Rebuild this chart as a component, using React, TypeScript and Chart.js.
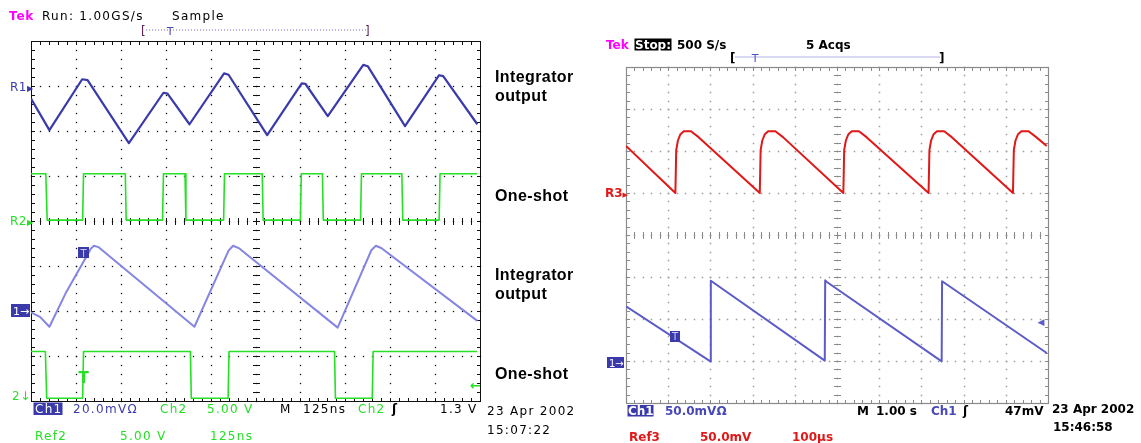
import React, { useEffect, useRef } from 'react';
import { Chart, registerables } from 'chart.js';

Chart.register(...registerables);

// ---------- Left scope (x: 0..10 div, y: -4..4 div) ----------
const R1_X = [0, 0.41, 1.14, 1.26, 2.18, 2.95, 3.04, 3.53, 4.30, 4.40, 5.26, 6.03, 6.11, 6.61, 7.40, 7.50, 8.33, 9.09, 9.18, 9.94];
const R1_Y = [2.72, 2.02, 3.15, 3.13, 1.73, 2.85, 2.83, 2.15, 3.28, 3.25, 1.91, 3.06, 3.05, 2.33, 3.47, 3.44, 2.11, 3.24, 3.22, 2.15];

const R2_X = [0, 0.33, 0.36, 1.15, 1.17, 2.10, 2.12, 2.93, 2.95, 3.43, 3.45, 4.29, 4.31, 5.15, 5.17, 6.00, 6.02, 6.49, 6.51, 7.34, 7.36, 8.26, 8.28, 9.09, 9.11, 9.94];
const R2_Y = [1.05, 1.05, 0.02, 0.02, 1.05, 1.05, 0.02, 0.02, 1.05, 1.05, 0.02, 0.02, 1.05, 1.05, 0.02, 0.02, 1.05, 1.05, 0.02, 0.02, 1.05, 1.05, 0.02, 0.02, 1.05, 1.05];

const CH1_X = [0, 0.20, 0.41, 0.79, 1.33, 1.40, 1.50, 3.64, 4.40, 4.50, 4.64, 6.83, 7.58, 7.68, 7.80, 9.94];
const CH1_Y = [-2.03, -2.13, -2.35, -1.57, -0.62, -0.55, -0.58, -2.35, -0.66, -0.55, -0.61, -2.37, -0.65, -0.55, -0.60, -2.22];

const CH2_X = [0, 0.32, 0.35, 1.15, 1.17, 3.55, 3.57, 4.39, 4.41, 6.76, 6.78, 7.60, 7.62, 9.94];
const CH2_Y = [-2.90, -2.90, -3.94, -3.94, -2.90, -2.90, -3.94, -3.94, -2.90, -2.90, -3.94, -3.94, -2.90, -2.90];

// ---------- Right scope (x: 0..10 div, y: -4..4 div) ----------
const R3_X = [0, 1.17, 1.19, 1.23, 1.29, 1.37, 1.54, 1.72, 3.17, 3.19, 3.23, 3.29, 3.37, 3.54, 3.72, 5.15, 5.17, 5.21, 5.27, 5.35, 5.52, 5.70, 7.17, 7.19, 7.23, 7.29, 7.37, 7.54, 7.72, 9.17, 9.19, 9.23, 9.29, 9.37, 9.54, 9.72, 9.97];
const R3_Y = [2.12, 1.0, 2.02, 2.25, 2.40, 2.47, 2.47, 2.33, 1.0, 2.02, 2.25, 2.40, 2.47, 2.47, 2.33, 1.0, 2.02, 2.25, 2.40, 2.47, 2.47, 2.33, 1.0, 2.02, 2.25, 2.40, 2.47, 2.47, 2.33, 1.0, 2.02, 2.25, 2.40, 2.47, 2.47, 2.33, 2.12];

const RCH1_X = [0, 2.0, 2.01, 4.71, 4.72, 4.76, 7.48, 7.49, 9.97];
const RCH1_Y = [-1.70, -3.01, -1.09, -2.99, -1.08, -1.12, -3.01, -1.10, -2.81];

const X_MIN = 0, X_MAX = 10, Y_MIN = -4, Y_MAX = 4;

const pts = (xs: number[], ys: number[]) => xs.map((x, i) => ({ x, y: ys[i] }));

const scopeGrid = {
  id: 'scopeGrid',
  beforeDatasetsDraw(chart: any, _a: any, o: any) {
    const { ctx } = chart;
    const sx = chart.scales.x, sy = chart.scales.y;
    const px = (v: number) => Math.round(sx.getPixelForValue(v));
    const py = (v: number) => Math.round(sy.getPixelForValue(v));
    const L = px(X_MIN), R = px(X_MAX), T = py(Y_MAX), B = py(Y_MIN);
    ctx.save();
    ctx.fillStyle = o.dot;
    const d = o.dotSize;
    const dot = (x: number, y: number) => ctx.fillRect(x - d / 2 + 0.5, y - d / 2 + 0.5, d, d);
    for (let i = X_MIN + 1; i < X_MAX; i++) {
      for (let m = 0; m <= 40; m++) dot(px(i), py(Y_MIN + m * 0.2));
    }
    for (let k = Y_MIN + 1; k < Y_MAX; k++) {
      for (let m = 0; m <= 50; m++) dot(px(m * 0.2), py(k));
    }
    ctx.strokeStyle = o.line;
    ctx.lineWidth = 1;
    ctx.beginPath();
    const cx = px(5), cy = py(0);
    for (let m = 0; m <= 40; m++) {
      const y = py(Y_MIN + m * 0.2) + 0.5;
      ctx.moveTo(cx - 3, y); ctx.lineTo(cx + 4, y);
      ctx.moveTo(L, y); ctx.lineTo(L + 4, y);
      ctx.moveTo(R + 1, y); ctx.lineTo(R - 3, y);
    }
    for (let m = 0; m <= 50; m++) {
      const x = px(m * 0.2) + 0.5;
      ctx.moveTo(x, cy - 3); ctx.lineTo(x, cy + 4);
      ctx.moveTo(x, T); ctx.lineTo(x, T + 4);
      ctx.moveTo(x, B + 1); ctx.lineTo(x, B - 3);
    }
    ctx.stroke();
    ctx.lineWidth = o.borderWidth;
    ctx.strokeRect(L + 0.5, T + 0.5, R - L, B - T);
    ctx.restore();
  },
};

function makeConfig(datasets: any[], grid: any): any {
  return {
    type: 'line',
    data: {
      datasets: datasets.map((ds) => ({
        fill: false,
        pointRadius: 0,
        tension: 0,
        borderJoinStyle: 'round',
        ...ds,
      })),
    },
    options: {
      animation: false,
      responsive: false,
      events: [],
      layout: { padding: 10 },
      scales: {
        x: { type: 'linear', min: X_MIN, max: X_MAX, display: false },
        y: { type: 'linear', min: Y_MIN, max: Y_MAX, display: false },
      },
      plugins: { legend: { display: false }, tooltip: { enabled: false }, scopeGrid: grid },
    },
    plugins: [scopeGrid],
  };
}

const LEFT_GREEN = '#25e025';
const LEFT_BLUE = '#3a3aaa';
const LEFT_LIGHT = '#8585e2';
const RIGHT_RED = '#e01818';
const RIGHT_BLUE = '#5c5cc8';

const DV = '"DejaVu Sans", Verdana, sans-serif';
const LS = '"Liberation Sans", Arial, Helvetica, sans-serif';

type TP = { x: number; y: number; c?: string; s?: number; w?: any; ls?: number; f?: string; a?: any; children: any };
const Tx = ({ x, y, c = '#000', s = 12, w = 'normal', ls = 1.3, f = DV, a = 'start', children }: TP) => (
  <text x={x} y={y} fill={c} fontSize={s} fontWeight={w} fontFamily={f} textAnchor={a} style={{ letterSpacing: ls + 'px' }}>
    {children}
  </text>
);
const RT = (p: TP) => <Tx w="bold" ls={0} {...p} />;

export default function App() {
  const leftRef = useRef<HTMLCanvasElement>(null);
  const rightRef = useRef<HTMLCanvasElement>(null);

  useEffect(() => {
    const left = new Chart(
      leftRef.current!,
      makeConfig(
        [
          { data: pts(R2_X, R2_Y), borderColor: LEFT_GREEN, borderWidth: 1.6 },
          { data: pts(CH2_X, CH2_Y), borderColor: LEFT_GREEN, borderWidth: 1.6 },
          { data: pts(R1_X, R1_Y), borderColor: LEFT_BLUE, borderWidth: 2.2 },
          { data: pts(CH1_X, CH1_Y), borderColor: LEFT_LIGHT, borderWidth: 2 },
        ],
        { dot: '#111', line: '#111', dotSize: 1.3, borderWidth: 1 }
      )
    );
    const right = new Chart(
      rightRef.current!,
      makeConfig(
        [
          { data: pts(R3_X, R3_Y), borderColor: RIGHT_RED, borderWidth: 2 },
          { data: pts(RCH1_X, RCH1_Y), borderColor: RIGHT_BLUE, borderWidth: 2 },
        ],
        { dot: '#9a9a9a', line: '#8a8a8a', dotSize: 1.5, borderWidth: 1.2 }
      )
    );
    return () => {
      left.destroy();
      right.destroy();
    };
  }, []);

  return (
    <div style={{ position: 'absolute', left: 0, top: 0, width: 1141, height: 443, background: '#fff', overflow: 'hidden' }}>
      <canvas ref={leftRef} width={469} height={380} style={{ position: 'absolute', left: 21, top: 31 }} />
      <canvas ref={rightRef} width={442} height={356} style={{ position: 'absolute', left: 616, top: 57 }} />
      <svg width={1141} height={443} style={{ position: 'absolute', left: 0, top: 0, pointerEvents: 'none' }}>
        {/* ----- left scope header ----- */}
        <Tx x={9} y={20} c="#ff00ff" w="bold" ls={0.8}>Tek</Tx>
        <Tx x={42} y={20}>Run: 1.00GS/s</Tx>
        <Tx x={172} y={20}>Sample</Tx>
        <line x1={146} y1={30} x2={366} y2={30} stroke="#6a6ad8" strokeWidth={1} strokeDasharray="1 2" />
        <Tx x={141} y={35} c="#5a1e50" ls={0}>[</Tx>
        <Tx x={365} y={35} c="#5a1e50" ls={0}>]</Tx>
        <Tx x={170} y={35} c="#4b4bc0" s={11} a="middle" ls={0}>T</Tx>
        {/* markers */}
        <Tx x={10} y={91} c={LEFT_BLUE} ls={0.5}>R1<tspan fontSize={8}>▶</tspan></Tx>
        <Tx x={10} y={225} c={LEFT_GREEN} ls={0.5}>R2<tspan fontSize={8}>▶</tspan></Tx>
        <rect x={11} y={304} width={19} height={13} fill={LEFT_BLUE} />
        <Tx x={13} y={315} c="#fff" s={11} ls={0}>1→</Tx>
        <Tx x={12} y={400} c={LEFT_GREEN} ls={0.5}>2↓</Tx>
        <rect x={78} y={247} width={11} height={11} fill={LEFT_BLUE} />
        <Tx x={83.5} y={256.5} c="#c8c8ff" s={10} a="middle" ls={0}>T</Tx>
        <Tx x={83.5} y={383} c={LEFT_GREEN} s={15} w="bold" a="middle" ls={0}>T</Tx>
        <Tx x={481} y={390} c={LEFT_GREEN} s={13} w="bold" a="end" ls={0}>←</Tx>
        {/* bottom rows */}
        <rect x={33.5} y={402.5} width={29} height={12.5} fill={LEFT_BLUE} />
        <Tx x={35} y={413} c="#fff">Ch1</Tx>
        <Tx x={73} y={413} c={LEFT_BLUE}>20.0mVΩ</Tx>
        <Tx x={160} y={413} c={LEFT_GREEN}>Ch2</Tx>
        <Tx x={207} y={413} c={LEFT_GREEN}>5.00 V</Tx>
        <Tx x={280} y={413}>M</Tx>
        <Tx x={303} y={413}>125ns</Tx>
        <Tx x={358} y={413} c={LEFT_GREEN}>Ch2</Tx>
        <Tx x={392} y={413} w="bold">ʃ</Tx>
        <Tx x={440} y={413}>1.3 V</Tx>
        <Tx x={35} y={440} c={LEFT_GREEN}>Ref2</Tx>
        <Tx x={120} y={440} c={LEFT_GREEN}>5.00 V</Tx>
        <Tx x={210} y={440} c={LEFT_GREEN}>125ns</Tx>
        <Tx x={487} y={415}>23 Apr 2002</Tx>
        <Tx x={487} y={434}>15:07:22</Tx>
        {/* annotations */}
        <Tx x={495} y={82} f={LS} s={16} w="bold" ls={0.4}>Integrator</Tx>
        <Tx x={495} y={101} f={LS} s={16} w="bold" ls={0.4}>output</Tx>
        <Tx x={495} y={201} f={LS} s={16} w="bold" ls={0.4}>One-shot</Tx>
        <Tx x={495} y={280} f={LS} s={16} w="bold" ls={0.4}>Integrator</Tx>
        <Tx x={495} y={299} f={LS} s={16} w="bold" ls={0.4}>output</Tx>
        <Tx x={495} y={379} f={LS} s={16} w="bold" ls={0.4}>One-shot</Tx>

        {/* ----- right scope header ----- */}
        <RT x={606} y={49} c="#ff00ff">Tek</RT>
        <rect x={634.5} y={38.5} width={37} height={12} fill="#000" />
        <RT x={635} y={48.5} c="#fff">Stop:</RT>
        <RT x={677} y={49}>500 S/s</RT>
        <RT x={806} y={49}>5 Acqs</RT>
        <line x1={735} y1={57} x2={940} y2={57} stroke="#b4b4ea" strokeWidth={1.2} />
        <RT x={730} y={62}>[</RT>
        <RT x={939} y={62}>]</RT>
        <Tx x={755} y={62} c="#5050c0" s={11} a="middle" ls={0}>T</Tx>
        <RT x={605} y={197} c={RIGHT_RED} ls={0}>R3<tspan fontSize={7}>▶</tspan></RT>
        <rect x={607} y={357} width={17} height={11} fill={LEFT_BLUE} />
        <Tx x={609} y={366.5} c="#fff" s={10} ls={0}>1→</Tx>
        <rect x={670} y={331} width={10} height={11} fill={LEFT_BLUE} />
        <Tx x={675} y={340} c="#c8c8ff" s={10} a="middle" ls={0}>T</Tx>
        <Tx x={1041} y={325} c={RIGHT_BLUE} s={9} a="middle" ls={0}>◀</Tx>
        {/* bottom rows */}
        <rect x={627.5} y={405} width={26} height={11.5} fill={LEFT_BLUE} />
        <RT x={628} y={415} c="#fff">Ch1</RT>
        <RT x={665} y={415} c="#4848b8">50.0mVΩ</RT>
        <RT x={857} y={415}>M</RT>
        <RT x={876} y={415}>1.00 s</RT>
        <RT x={931} y={415} c="#4848b8">Ch1</RT>
        <RT x={963} y={415}>ʃ</RT>
        <RT x={1005} y={415}>47mV</RT>
        <RT x={629} y={441} c={RIGHT_RED}>Ref3</RT>
        <RT x={700} y={441} c={RIGHT_RED}>50.0mV</RT>
        <RT x={792} y={441} c={RIGHT_RED}>100µs</RT>
        <RT x={1052} y={413}>23 Apr 2002</RT>
        <RT x={1053} y={431}>15:46:58</RT>
      </svg>
    </div>
  );
}
